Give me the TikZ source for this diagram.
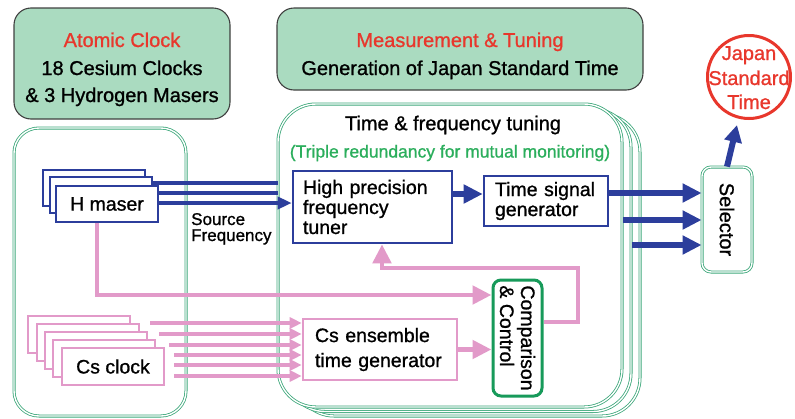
\documentclass[tikz,border=0pt]{standalone}
\usepackage{fontspec}
\setmainfont{Liberation Sans}[FakeBold=1]
\usetikzlibrary{arrows.meta}
\definecolor{mint}{HTML}{AADBC0}
\definecolor{jred}{HTML}{E8372C}
\definecolor{jblue}{HTML}{2C3E9C}
\definecolor{jpink}{HTML}{E29AC9}
\definecolor{jgreen}{HTML}{3CA77A}
\definecolor{ccgreen}{HTML}{179A5A}
\definecolor{tgreen}{HTML}{2BAE5C}
\begin{document}
\begin{tikzpicture}[x=1pt,y=-1pt,
  hdr/.style={draw=black!75, line width=1.1pt, fill=mint, rounded corners=17pt},
  frm/.style={draw=jgreen, line width=0.8pt, double=white, double distance=1.4pt},
  bbox/.style={draw=jblue, line width=2.6pt, fill=white, inner sep=0pt},
  pbox/.style={draw=jpink, line width=2.6pt, fill=white, inner sep=0pt},
  txt/.style={font=\fontsize{19.5}{21}\selectfont, inner sep=0pt},
  htxt/.style={font=\fontsize{20}{22}\selectfont, inner sep=0pt, anchor=base},
  bline/.style={draw=jblue, line width=4pt},
  bthick/.style={draw=jblue, line width=6.5pt, -{Triangle[length=19pt,width=18pt]}},
  pline/.style={draw=jpink, line width=4.8pt},
  ptip/.style={-{Triangle[length=19pt,width=18pt]}},
  psmall/.style={draw=jpink, line width=4pt, -{Triangle[length=12pt,width=11pt]}}
]
\useasboundingbox (0,0) rectangle (795,418);

% header boxes
\node[hdr, minimum width=216pt, minimum height=111pt] (atom) at (122,63.5) {};
\node[htxt, text=jred] (atomt1) at (122,47) {Atomic Clock};
\node[htxt] (atomt2) at (122,75) {18 Cesium Clocks};
\node[htxt] (atomt3) at (122,102) {\& 3 Hydrogen Masers};

\node[hdr, minimum width=366pt, minimum height=82pt] (meas) at (460,49) {};
\node[htxt, text=jred] (meast1) at (460,47) {Measurement \& Tuning};
\node[htxt] (meast2) at (460,75) {Generation of Japan Standard Time};

% containers
\draw[frm, rounded corners=25pt] (14,128) rectangle (186,416);
\draw[frm, fill=white, rounded corners=38pt] (296,114) rectangle (640,416);
\draw[frm, fill=white, rounded corners=38pt] (287,109) rectangle (631,411.5);
\draw[frm, fill=white, rounded corners=38pt] (278,104) rectangle (622,407);

\node[txt, font=\fontsize{20}{22}\selectfont] (tft) at (453,125) {Time \& frequency tuning};
\node[txt, text=tgreen, font=\fontsize{17.5}{20}\selectfont] (tri) at (450,153) {(Triple redundancy for mutual monitoring)};

% H masers
\node[bbox, minimum width=102pt, minimum height=36pt] (hm1) at (94,188) {};
\node[bbox, minimum width=102pt, minimum height=36pt] (hm2) at (101,195) {};
\node[bbox, minimum width=102pt, minimum height=36pt, txt] (hm3) at (107,204) {H maser};

% tuner and time signal generator
\node[bbox, minimum width=159pt, minimum height=72pt, text width=139pt, align=left,
      font=\fontsize{19.5}{20}\selectfont] (tuner) at (372.5,207) {High precision\\frequency\\tuner};
\node[bbox, minimum width=124pt, minimum height=50pt, text width=102pt, align=left,
      font=\fontsize{19.5}{20}\selectfont] (tsg) at (546,201) {Time signal\\generator};

% source frequency
\node[anchor=base west, inner sep=0pt, font=\fontsize{17}{17}\selectfont] (src1) at (191,225) {Source};
\node[anchor=base west, inner sep=0pt, font=\fontsize{17}{17}\selectfont] (src2) at (191,241) {Frequency};

% Cs clocks
\node[pbox, minimum width=102pt, minimum height=37pt] (cs1) at (79,334.5) {};
\node[pbox, minimum width=102pt, minimum height=37pt] (cs2) at (88,342.5) {};
\node[pbox, minimum width=102pt, minimum height=37pt] (cs3) at (96,350.5) {};
\node[pbox, minimum width=102pt, minimum height=37pt] (cs4) at (104,358.5) {};
\node[pbox, minimum width=102pt, minimum height=37pt, txt] (cs5) at (113,366.5) {Cs clock};

\node[pbox, minimum width=154pt, minimum height=61pt, text width=130pt, align=left,
      font=\fontsize{19.5}{25}\selectfont] (ens) at (380,349.5) {Cs ensemble\\time generator};

% comparison & control
\node[draw=ccgreen, line width=3pt, rounded corners=8pt, fill=white,
      minimum width=49pt, minimum height=116pt] (cc) at (517.5,338) {};
\node[rotate=-90, align=left, inner sep=0pt, font=\fontsize{19.5}{21}\selectfont] (cct) at (cc.center) {Comparison\\\& Control};

% selector
\node[frm, rounded corners=9pt, fill=white, minimum width=50pt, minimum height=105pt] (sel) at (727,219.5) {};
\node[rotate=-90, txt, font=\fontsize{20}{22}\selectfont] (selt) at (sel.center) {Selector};

% Japan Standard Time
\node[circle, draw=jred, line width=3pt, minimum size=83pt, inner sep=0pt] (jst) at (749,77) {};
\node[htxt, text=jred] (jst1) at (749,60) {Japan};
\node[htxt, text=jred] (jst2) at (749,85) {Standard};
\node[htxt, text=jred] (jst3) at (749,109) {Time};

% coordinates
\coordinate (b1) at (278,183);
\coordinate (b2) at (278,193);
\coordinate (b3) at (278,203);
\coordinate (t1) at (0,194);
\coordinate (o1) at (0,193);
\coordinate (o2s) at (623,220);
\coordinate (o3s) at (632,245);
\coordinate (jtip) at (737,125);
\coordinate (p1) at (97,295);
\coordinate (f1) at (578,322);
\coordinate (f2) at (578,268);
\coordinate (f3) at (382,268);
\coordinate (c1) at (150,323);
\coordinate (c2) at (159,334);
\coordinate (c3) at (169,345);
\coordinate (c4) at (174,355);
\coordinate (c5) at (174,365);
\coordinate (c6) at (174,376);

% blue connectors
\draw[bline] (hm2.east |- b1) -- (b1);
\draw[bline] (hm3.east |- b2) -- (b2);
\draw[bline, -{Triangle[length=14pt,width=12pt]}] (hm3.east |- b3) -- (tuner.west |- b3);
\draw[bthick] (tuner.east |- t1) -- (tsg.west |- t1);
\draw[bthick] (tsg.east |- o1) -- (sel.west |- o1);
\draw[bthick] (o2s) -- (sel.west |- o2s);
\draw[bthick] (o3s) -- (sel.west |- o3s);
\draw[draw=jblue, line width=6pt, -{Triangle[length=17pt,width=17pt]}] (sel.north) -- (jtip);

% pink connectors
\draw[pline, ptip] (hm3.south -| p1) -- (p1) -- (cc.west |- p1);
\draw[pline, ptip] (cc.east |- f1) -- (f1) -- (f2) -- (f3) -- (tuner.south -| f3);
\draw[pline, ptip] (ens.east) -- (cc.west |- ens.east);
\foreach \c in {c1,c2,c3,c4,c5,c6}
  \draw[psmall] (\c) -- (ens.west |- \c);
\end{tikzpicture}
\end{document}
